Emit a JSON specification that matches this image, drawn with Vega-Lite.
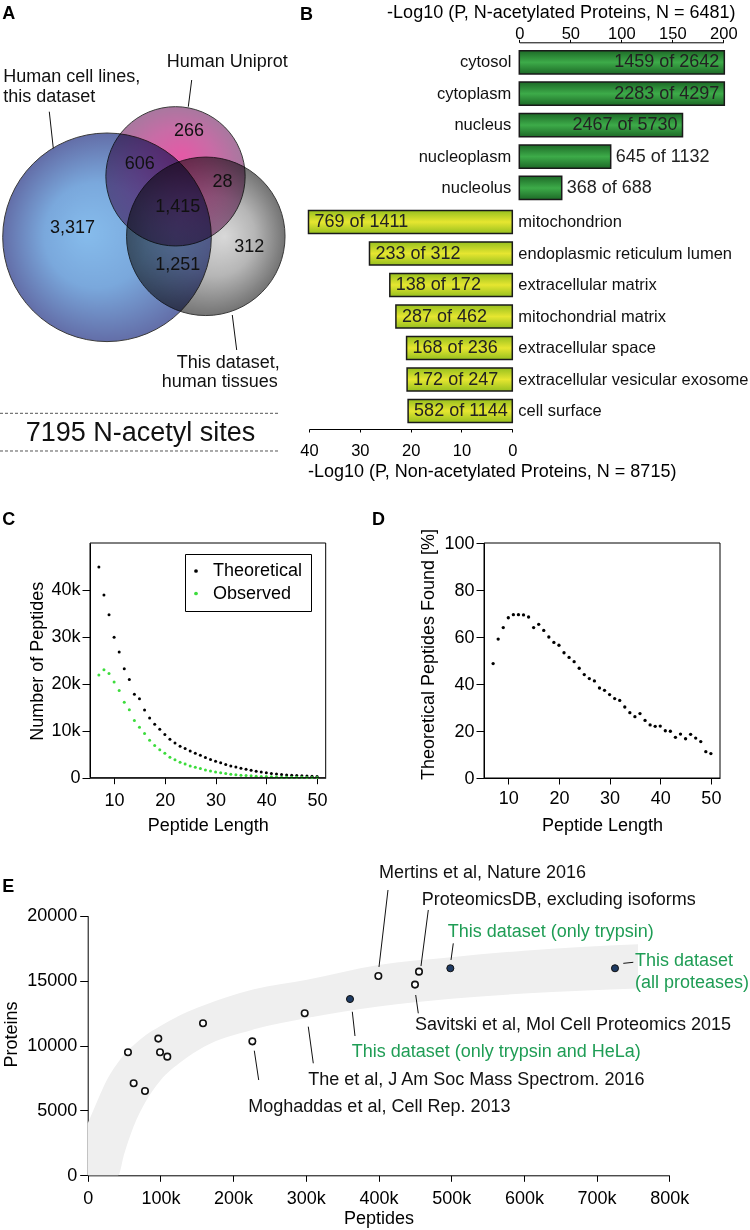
{
"$schema": "https://vega.github.io/schema/vega-lite/v6.json",
"width": 750, "height": 1230,
"autosize": {"type": "none"},
"padding": 0,
"background": "white",
"config": {
  "view": {"stroke": null},
  "font": "Liberation Sans",
  "axis": {"grid": false, "domainColor": "black", "tickColor": "black", "labelColor": "black", "titleColor": "black", "labelFontSize": 18, "titleFontSize": 18, "titleFontWeight": "normal", "labelFont": "Liberation Sans", "titleFont": "Liberation Sans", "labelFlush": false, "labelOverlap": false, "domainWidth": 1, "tickWidth": 1}
},
"datasets": {
  "venn": [{"set":"cells","cx":35.67,"cy":79.1,"d":69.53},{"set":"uniprot","cx":58.5,"cy":58.77,"d":46.43},{"set":"tissues","cx":68.6,"cy":78.77,"d":52.83}],
  "vennNums": [{"t":"266","x":63,"y":43.67},{"t":"606","x":46.57,"y":54.67},{"t":"28","x":74.17,"y":60.57},{"t":"1,415","x":59.23,"y":68.9},{"t":"3,317","x":24.17,"y":76.1},{"t":"312","x":83.07,"y":82.23},{"t":"1,251","x":59.23,"y":88.33}],
  "vennLabels": [{"t":"Human cell lines,","x":1.1,"y":25.57},{"t":"this dataset","x":1.1,"y":32.23},{"t":"Human Uniprot","x":55.57,"y":20.57},{"t":"This dataset,","x":58.9,"y":121.1},{"t":"human tissues","x":53.9,"y":127.23}],
  "vennLeaders": [{"x1":16.43,"y1":37.23,"x2":17.77,"y2":49.43},{"x1":63.9,"y1":26.67,"x2":62.77,"y2":35.57},{"x1":77.43,"y1":105,"x2":78.9,"y2":116.67}],
  "vennDash": [{"x1":0,"x2":93.33,"y":137.77},{"x1":0,"x2":93.33,"y":150.33}],
  "vennTotal": [{"t":"7195 N-acetyl sites","x":46.83,"y":144.33}],
  "nacet": [{"cat":"cytosol","v":201,"lab":"1459 of 2642"},{"cat":"cytoplasm","v":201,"lab":"2283 of 4297"},{"cat":"nucleus","v":160,"lab":"2467 of 5730"},{"cat":"nucleoplasm","v":89.6,"lab":"645 of 1132"},{"cat":"nucleolus","v":41.6,"lab":"368 of 688"}],
  "nonacet": [{"cat":"mitochondrion","v":40.1,"lab":"769 of 1411"},{"cat":"endoplasmic reticulum lumen","v":28.1,"lab":"233 of 312"},{"cat":"extracellular matrix","v":24.1,"lab":"138 of 172"},{"cat":"mitochondrial matrix","v":22.9,"lab":"287 of 462"},{"cat":"extracellular space","v":20.8,"lab":"168 of 236"},{"cat":"extracellular vesicular exosome","v":20.7,"lab":"172 of 247"},{"cat":"cell surface","v":20.5,"lab":"582 of 1144"}],
  "lengths": [
    {"len":7,"s":"Theoretical","n":44900},{"len":8,"s":"Theoretical","n":38900},{"len":9,"s":"Theoretical","n":34700},{"len":10,"s":"Theoretical","n":29900},{"len":11,"s":"Theoretical","n":26800},{"len":12,"s":"Theoretical","n":23200},{"len":13,"s":"Theoretical","n":20900},{"len":14,"s":"Theoretical","n":17800},{"len":15,"s":"Theoretical","n":16800},{"len":16,"s":"Theoretical","n":14400},{"len":17,"s":"Theoretical","n":12700},{"len":18,"s":"Theoretical","n":11400},{"len":19,"s":"Theoretical","n":10300},{"len":20,"s":"Theoretical","n":9200},{"len":21,"s":"Theoretical","n":8200},{"len":22,"s":"Theoretical","n":7400},{"len":23,"s":"Theoretical","n":6700},{"len":24,"s":"Theoretical","n":6200},{"len":25,"s":"Theoretical","n":5700},{"len":26,"s":"Theoretical","n":5200},{"len":27,"s":"Theoretical","n":4800},{"len":28,"s":"Theoretical","n":4300},{"len":29,"s":"Theoretical","n":3900},{"len":30,"s":"Theoretical","n":3500},{"len":31,"s":"Theoretical","n":3200},{"len":32,"s":"Theoretical","n":2800},{"len":33,"s":"Theoretical","n":2500},{"len":34,"s":"Theoretical","n":2300},{"len":35,"s":"Theoretical","n":2000},{"len":36,"s":"Theoretical","n":1800},{"len":37,"s":"Theoretical","n":1600},{"len":38,"s":"Theoretical","n":1400},{"len":39,"s":"Theoretical","n":1200},{"len":40,"s":"Theoretical","n":1060},{"len":41,"s":"Theoretical","n":900},{"len":42,"s":"Theoretical","n":800},{"len":43,"s":"Theoretical","n":700},{"len":44,"s":"Theoretical","n":600},{"len":45,"s":"Theoretical","n":500},{"len":46,"s":"Theoretical","n":450},{"len":47,"s":"Theoretical","n":400},{"len":48,"s":"Theoretical","n":350},{"len":49,"s":"Theoretical","n":300},{"len":50,"s":"Theoretical","n":250},
    {"len":7,"s":"Observed","n":21900},{"len":8,"s":"Observed","n":23000},{"len":9,"s":"Observed","n":22200},{"len":10,"s":"Observed","n":20400},{"len":11,"s":"Observed","n":18600},{"len":12,"s":"Observed","n":16100},{"len":13,"s":"Observed","n":14500},{"len":14,"s":"Observed","n":12200},{"len":15,"s":"Observed","n":10750},{"len":16,"s":"Observed","n":9400},{"len":17,"s":"Observed","n":8000},{"len":18,"s":"Observed","n":6840},{"len":19,"s":"Observed","n":5940},{"len":20,"s":"Observed","n":5200},{"len":21,"s":"Observed","n":4370},{"len":22,"s":"Observed","n":3800},{"len":23,"s":"Observed","n":3300},{"len":24,"s":"Observed","n":2900},{"len":25,"s":"Observed","n":2500},{"len":26,"s":"Observed","n":2200},{"len":27,"s":"Observed","n":1980},{"len":28,"s":"Observed","n":1650},{"len":29,"s":"Observed","n":1450},{"len":30,"s":"Observed","n":1240},{"len":31,"s":"Observed","n":1080},{"len":32,"s":"Observed","n":920},{"len":33,"s":"Observed","n":760},{"len":34,"s":"Observed","n":640},{"len":35,"s":"Observed","n":520},{"len":36,"s":"Observed","n":490},{"len":37,"s":"Observed","n":390},{"len":38,"s":"Observed","n":320},{"len":39,"s":"Observed","n":260},{"len":40,"s":"Observed","n":230},{"len":41,"s":"Observed","n":180},{"len":42,"s":"Observed","n":160},{"len":43,"s":"Observed","n":120},{"len":44,"s":"Observed","n":110},{"len":45,"s":"Observed","n":80},{"len":46,"s":"Observed","n":80},{"len":47,"s":"Observed","n":70},{"len":48,"s":"Observed","n":50},{"len":49,"s":"Observed","n":30},{"len":50,"s":"Observed","n":30}],
  "found": [{"len":7,"p":48.7},{"len":8,"p":59.1},{"len":9,"p":64.0},{"len":10,"p":68.2},{"len":11,"p":69.5},{"len":12,"p":69.5},{"len":13,"p":69.4},{"len":14,"p":68.5},{"len":15,"p":64.0},{"len":16,"p":65.4},{"len":17,"p":62.8},{"len":18,"p":60.0},{"len":19,"p":57.7},{"len":20,"p":56.5},{"len":21,"p":53.3},{"len":22,"p":51.3},{"len":23,"p":49.5},{"len":24,"p":46.7},{"len":25,"p":44.0},{"len":26,"p":42.3},{"len":27,"p":41.3},{"len":28,"p":38.3},{"len":29,"p":37.3},{"len":30,"p":35.5},{"len":31,"p":33.8},{"len":32,"p":33.0},{"len":33,"p":30.2},{"len":34,"p":27.8},{"len":35,"p":26.1},{"len":36,"p":27.4},{"len":37,"p":24.5},{"len":38,"p":22.6},{"len":39,"p":22.0},{"len":40,"p":22.1},{"len":41,"p":20.1},{"len":42,"p":19.9},{"len":43,"p":17.3},{"len":44,"p":18.7},{"len":45,"p":16.7},{"len":46,"p":18.6},{"len":47,"p":17.0},{"len":48,"p":15.5},{"len":49,"p":11.2},{"len":50,"p":10.4}],
  "band": [{"pep":0,"lo":0,"hi":4000},{"pep":10000,"lo":0,"hi":5300},{"pep":20000,"lo":0,"hi":6600},{"pep":30000,"lo":0,"hi":7700},{"pep":42000,"lo":0,"hi":8700},{"pep":50000,"lo":1600,"hi":9300},{"pep":62700,"lo":3700,"hi":10000},{"pep":80000,"lo":5700,"hi":10800},{"pep":100000,"lo":7300,"hi":11500},{"pep":130000,"lo":8800,"hi":12400},{"pep":160000,"lo":9900,"hi":13100},{"pep":226000,"lo":11200,"hi":14300},{"pep":300000,"lo":12100,"hi":15050},{"pep":400000,"lo":13000,"hi":16200},{"pep":500000,"lo":13600,"hi":16800},{"pep":600000,"lo":14000,"hi":17300},{"pep":757000,"lo":14400,"hi":17800}],
  "studies": [{"pep":55400,"prot":9480,"src":"other"},{"pep":63200,"prot":7090,"src":"other"},{"pep":78800,"prot":6490,"src":"other"},{"pep":97100,"prot":10530,"src":"other"},{"pep":99500,"prot":9480,"src":"other"},{"pep":109500,"prot":9140,"src":"other"},{"pep":158600,"prot":11710,"src":"other"},{"pep":226500,"prot":10320,"src":"other"},{"pep":298500,"prot":12480,"src":"other"},{"pep":399800,"prot":15350,"src":"other"},{"pep":450200,"prot":14690,"src":"other"},{"pep":455700,"prot":15690,"src":"other"},{"pep":360800,"prot":13580,"src":"this"},{"pep":498800,"prot":15950,"src":"this"},{"pep":725300,"prot":15950,"src":"this"}],
  "studyLabels": [{"t":"Mertins et al, Nature 2016","x":400700,"y":23270,"src":"other"},{"t":"ProteomicsDB, excluding isoforms","x":459400,"y":21210,"src":"other"},{"t":"This dataset (only trypsin)","x":495200,"y":18770,"src":"this"},{"t":"This dataset","x":752800,"y":16510,"src":"this"},{"t":"(all proteases)","x":752800,"y":14815,"src":"this"},{"t":"Savitski et al, Mol Cell Proteomics 2015","x":450200,"y":11580,"src":"other"},{"t":"This dataset (only trypsin and HeLa)","x":363100,"y":9520,"src":"this"},{"t":"The et al, J Am Soc Mass Spectrom. 2016","x":303400,"y":7340,"src":"other"},{"t":"Moghaddas et al, Cell Rep. 2013","x":220900,"y":5285,"src":"other"}],
  "studyLeaders": [{"x1":413060,"y1":21980,"x2":400680,"y2":16050},{"x1":468500,"y1":20440,"x2":458450,"y2":16120},{"x1":502880,"y1":17870,"x2":499720,"y2":16590},{"x1":736710,"y1":16330,"x2":750470,"y2":16410},{"x1":451160,"y1":13890,"x2":454740,"y2":12480},{"x1":363960,"y1":12600,"x2":367670,"y2":10730},{"x1":303430,"y1":11450,"x2":310310,"y2":8630},{"x1":229160,"y1":9600,"x2":235210,"y2":7340}],
  "letters": [{"t":"A","x":0.3,"y":1.14},{"t":"B","x":40,"y":1.22},{"t":"C","x":0.3,"y":42.28},{"t":"D","x":49.6,"y":42.28},{"t":"E","x":0.3,"y":72.11}]
},
"resolve": {"scale": {"x": "independent", "y": "independent", "size": "independent", "color": "independent"}, "axis": {"x": "independent", "y": "independent"}, "legend": {"color": "independent", "size": "independent"}},
"layer": [
  {
    "encoding": {
      "x": {"field": "cx", "type": "quantitative", "scale": {"domain": [0, 100], "range": [0, 300], "nice": false, "zero": false}, "axis": null},
      "y": {"field": "cy", "type": "quantitative", "scale": {"domain": [0, 160], "range": [0, 480], "nice": false, "zero": false}, "axis": null}
    },
    "layer": [
      {"data": {"name": "venn"}, "transform": [{"filter": "datum.set === 'tissues'"}],
       "mark": {"type": "point", "shape": "circle", "filled": true, "opacity": 1, "stroke": "#3a3a3a", "strokeWidth": 1,
                "fill": {"gradient": "radial", "x1": 0.62, "y1": 0.5, "r1": 0, "x2": 0.5, "y2": 0.5, "r2": 0.5, "stops": [{"offset": 0, "color": "#d8d8d8"}, {"offset": 0.5, "color": "#b6b6b6"}, {"offset": 1, "color": "#747474"}]}},
       "encoding": {"size": {"field": "d", "type": "quantitative", "scale": {"type": "pow", "exponent": 2, "domain": [0, 100], "range": [0, 90000]}, "legend": null}}},
      {"data": {"name": "venn"}, "transform": [{"filter": "datum.set === 'uniprot'"}],
       "mark": {"type": "point", "shape": "circle", "filled": true, "opacity": 1, "blend": "multiply", "stroke": "#3a3a3a", "strokeWidth": 1,
                "fill": {"gradient": "radial", "x1": 0.55, "y1": 0.35, "r1": 0, "x2": 0.5, "y2": 0.5, "r2": 0.5, "stops": [{"offset": 0, "color": "#e45aa6"}, {"offset": 0.55, "color": "#c86ca6"}, {"offset": 1, "color": "#a8789f"}]}},
       "encoding": {"size": {"field": "d", "type": "quantitative", "scale": {"type": "pow", "exponent": 2, "domain": [0, 100], "range": [0, 90000]}, "legend": null}}},
      {"data": {"name": "venn"}, "transform": [{"filter": "datum.set === 'cells'"}],
       "mark": {"type": "point", "shape": "circle", "filled": true, "opacity": 1, "blend": "multiply", "stroke": "#3a3a3a", "strokeWidth": 1,
                "fill": {"gradient": "radial", "x1": 0.4, "y1": 0.48, "r1": 0, "x2": 0.5, "y2": 0.5, "r2": 0.5, "stops": [{"offset": 0, "color": "#86bcec"}, {"offset": 0.5, "color": "#7aa8dc"}, {"offset": 1, "color": "#636ea8"}]}},
       "encoding": {"size": {"field": "d", "type": "quantitative", "scale": {"type": "pow", "exponent": 2, "domain": [0, 100], "range": [0, 90000]}, "legend": null}}},
      {"data": {"name": "vennNums"}, "mark": {"type": "text", "fontSize": 18, "align": "center", "baseline": "middle", "color": "#111"},
       "encoding": {"x": {"field": "x", "type": "quantitative", "axis": null}, "y": {"field": "y", "type": "quantitative", "axis": null}, "text": {"field": "t"}}},
      {"data": {"name": "vennLabels"}, "mark": {"type": "text", "fontSize": 18, "align": "left", "baseline": "middle", "color": "#111"},
       "encoding": {"x": {"field": "x", "type": "quantitative", "axis": null}, "y": {"field": "y", "type": "quantitative", "axis": null}, "text": {"field": "t"}}},
      {"data": {"name": "vennLeaders"}, "mark": {"type": "rule", "color": "#111", "strokeWidth": 1},
       "encoding": {"x": {"field": "x1", "type": "quantitative", "axis": null}, "y": {"field": "y1", "type": "quantitative", "axis": null}, "x2": {"field": "x2"}, "y2": {"field": "y2"}}},
      {"data": {"name": "vennDash"}, "mark": {"type": "rule", "color": "#555", "strokeWidth": 1, "strokeDash": [3, 2]},
       "encoding": {"x": {"field": "x1", "type": "quantitative", "axis": null}, "x2": {"field": "x2"}, "y": {"field": "y", "type": "quantitative", "axis": null}}},
      {"data": {"name": "vennTotal"}, "mark": {"type": "text", "fontSize": 27, "align": "center", "baseline": "middle", "color": "#111"},
       "encoding": {"x": {"field": "x", "type": "quantitative", "axis": null}, "y": {"field": "y", "type": "quantitative", "axis": null}, "text": {"field": "t"}}}
    ]
  },
  {
    "data": {"name": "nacet"},
    "encoding": {
      "y": {"field": "cat", "type": "nominal", "sort": null, "scale": {"range": [46.6, 203.7], "paddingInner": 0.26, "paddingOuter": 0.13}, "axis": null}
    },
    "layer": [
      {"mark": {"type": "bar", "stroke": "#1a1a1a", "strokeWidth": 1.5,
                "fill": {"gradient": "linear", "x1": 0, "y1": 0, "x2": 0, "y2": 1, "stops": [{"offset": 0, "color": "#1d6a27"}, {"offset": 0.5, "color": "#3dab49"}, {"offset": 1, "color": "#1d6a27"}]}},
       "encoding": {
         "x": {"field": "v", "type": "quantitative", "scale": {"domain": [0, 200], "range": [519.3, 723.3], "nice": false, "zero": false},
               "axis": {"orient": "top", "offset": -42.3, "values": [0, 50, 100, 150, 200], "tickSize": 3, "labelPadding": 1, "labelBaseline": "alphabetic", "labelFontSize": 16.5,
                        "title": "-Log10 (P, N-acetylated Proteins, N = 6481)", "titleX": 560.8, "titleY": -25, "titleBaseline": "alphabetic", "titleAlign": "center"}},
         "x2": {"datum": 0}}},
      {"transform": [{"filter": "datum.v > 150"}], "mark": {"type": "text", "fontSize": 18, "align": "right", "baseline": "middle", "dx": -5, "color": "#222"},
       "encoding": {"x": {"field": "v", "type": "quantitative"}, "text": {"field": "lab"}}},
      {"transform": [{"filter": "datum.v <= 150"}], "mark": {"type": "text", "fontSize": 18, "align": "left", "baseline": "middle", "dx": 5, "color": "#222"},
       "encoding": {"x": {"field": "v", "type": "quantitative"}, "text": {"field": "lab"}}},
      {"mark": {"type": "text", "fontSize": 16.5, "align": "right", "baseline": "middle", "dx": -8, "color": "#111"},
       "encoding": {"x": {"datum": 0, "type": "quantitative"}, "text": {"field": "cat"}}}
    ]
  },
  {
    "data": {"name": "nonacet"},
    "encoding": {
      "y": {"field": "cat", "type": "nominal", "sort": null, "scale": {"range": [206.25, 426.75], "paddingInner": 0.27, "paddingOuter": 0.135}, "axis": null}
    },
    "layer": [
      {"mark": {"type": "bar", "stroke": "#1a1a1a", "strokeWidth": 1.5,
                "fill": {"gradient": "linear", "x1": 0, "y1": 0, "x2": 0, "y2": 1, "stops": [{"offset": 0, "color": "#97c01f"}, {"offset": 0.5, "color": "#e6e630"}, {"offset": 1, "color": "#97c01f"}]}},
       "encoding": {
         "x": {"field": "v", "type": "quantitative", "scale": {"domain": [0, 40], "range": [512.3, 309], "nice": false, "zero": false},
               "axis": {"orient": "bottom", "offset": -801, "values": [0, 10, 20, 30, 40], "tickSize": 3, "labelPadding": 23, "labelBaseline": "alphabetic", "labelFontSize": 16.5,
                        "title": "-Log10 (P, Non-acetylated Proteins, N = 8715)", "titleX": 491.7, "titleY": 47.7, "titleBaseline": "alphabetic", "titleAlign": "center"}},
         "x2": {"datum": 0}}},
      {"mark": {"type": "text", "fontSize": 18, "align": "left", "baseline": "middle", "dx": 6, "color": "#222"},
       "encoding": {"x": {"field": "v", "type": "quantitative"}, "text": {"field": "lab"}}},
      {"mark": {"type": "text", "fontSize": 16.5, "align": "left", "baseline": "middle", "dx": 6, "color": "#111"},
       "encoding": {"x": {"datum": 0, "type": "quantitative"}, "text": {"field": "cat"}}}
    ]
  },
  {
    "layer": [
      {"data": {"name": "lengths"}, "mark": {"type": "point", "shape": "circle", "filled": true, "size": 9, "opacity": 1},
       "encoding": {
         "x": {"field": "len", "type": "quantitative", "scale": {"domain": [5.25, 51.7], "range": [90, 325.7], "nice": false, "zero": false},
               "axis": {"orient": "bottom", "offset": -452.3, "values": [10, 20, 30, 40, 50], "tickSize": 6, "labelPadding": 21.3, "labelBaseline": "alphabetic",
                        "title": "Peptide Length", "titleX": 207.8, "titleY": 52.3, "titleBaseline": "alphabetic", "titleAlign": "center"}},
         "y": {"field": "n", "type": "quantitative", "scale": {"domain": [0, 50000], "range": [777.7, 543], "nice": false, "zero": false},
               "axis": {"orient": "left", "offset": -90, "values": [0, 10000, 20000, 30000, 40000], "labelExpr": "datum.value === 0 ? '0' : format(datum.value / 1000, 'd') + 'k'", "tickSize": 8, "labelPadding": 2,
                        "title": "Number of Peptides", "titleX": -48, "titleY": 660.8, "titleBaseline": "alphabetic", "titleAlign": "center", "titleAngle": -90}},
         "color": {"field": "s", "type": "nominal", "scale": {"domain": ["Theoretical", "Observed"], "range": ["#000000", "#3cdc3c"]},
                   "legend": {"orient": "none", "legendX": 185, "legendY": 554, "title": null, "strokeColor": "black", "fillColor": "white", "padding": 8, "labelFontSize": 18, "labelFont": "Liberation Sans", "labelColor": "black", "symbolSize": 14, "symbolType": "circle", "symbolStrokeWidth": 0, "symbolOffset": -6, "rowPadding": 4.5, "labelOffset": 8}}
       }},
      {"data": {"values": [{}]}, "mark": {"type": "rect", "fillOpacity": 0, "stroke": "black", "strokeWidth": 1},
       "encoding": {"x": {"datum": 5.25, "type": "quantitative"}, "x2": {"datum": 51.7}, "y": {"datum": 0, "type": "quantitative"}, "y2": {"datum": 50000}}}
    ]
  },
  {
    "layer": [
      {"data": {"name": "found"}, "mark": {"type": "point", "shape": "circle", "filled": true, "size": 11, "opacity": 1, "color": "black"},
       "encoding": {
         "x": {"field": "len", "type": "quantitative", "scale": {"domain": [5.2, 51.8], "range": [484, 720], "nice": false, "zero": false},
               "axis": {"orient": "bottom", "offset": -452, "values": [10, 20, 30, 40, 50], "tickSize": 6, "labelPadding": 19.3, "labelBaseline": "alphabetic",
                        "title": "Peptide Length", "titleX": 602, "titleY": 52, "titleBaseline": "alphabetic", "titleAlign": "center"}},
         "y": {"field": "p", "type": "quantitative", "scale": {"domain": [0, 100], "range": [778, 543], "nice": false, "zero": false},
               "axis": {"orient": "left", "offset": -484, "values": [0, 20, 40, 60, 80, 100], "tickSize": 8, "labelPadding": 2,
                        "title": "Theoretical Peptides Found [%]", "titleX": -50.5, "titleY": 654, "titleBaseline": "alphabetic", "titleAlign": "center", "titleAngle": -90}}
       }},
      {"data": {"values": [{}]}, "mark": {"type": "rect", "fillOpacity": 0, "stroke": "black", "strokeWidth": 1},
       "encoding": {"x": {"datum": 5.2, "type": "quantitative"}, "x2": {"datum": 51.8}, "y": {"datum": 0, "type": "quantitative"}, "y2": {"datum": 100}}}
    ]
  },
  {
    "layer": [
      {"data": {"name": "band"}, "mark": {"type": "area", "color": "#efefef", "opacity": 1, "interpolate": "monotone"},
       "encoding": {
         "x": {"field": "pep", "type": "quantitative", "scale": {"domain": [0, 800000], "range": [87.7, 669.3], "nice": false, "zero": false},
               "axis": {"orient": "bottom", "offset": -54.7, "values": [0, 100000, 200000, 300000, 400000, 500000, 600000, 700000, 800000], "labelExpr": "datum.value === 0 ? '0' : format(datum.value / 1000, 'd') + 'k'", "tickSize": 6, "labelPadding": 22, "labelBaseline": "alphabetic",
                        "title": "Peptides", "titleX": 378.5, "titleY": 48, "titleBaseline": "alphabetic", "titleAlign": "center"}},
         "y": {"field": "hi", "type": "quantitative", "scale": {"domain": [0, 20000], "range": [1175.3, 915.7], "nice": false, "zero": false},
               "axis": {"orient": "left", "offset": -87.7, "values": [0, 5000, 10000, 15000, 20000], "format": "d", "tickSize": 8, "labelPadding": 3,
                        "title": "Proteins", "titleX": -71.7, "titleY": 1034, "titleBaseline": "alphabetic", "titleAlign": "center", "titleAngle": -90}},
         "y2": {"field": "lo"}
       }},
      {"data": {"name": "studyLeaders"}, "mark": {"type": "rule", "color": "#111", "strokeWidth": 1},
       "encoding": {"x": {"field": "x1", "type": "quantitative"}, "y": {"field": "y1", "type": "quantitative"}, "x2": {"field": "x2"}, "y2": {"field": "y2"}}},
      {"data": {"name": "studies"}, "transform": [{"filter": "datum.src === 'other'"}], "mark": {"type": "point", "shape": "circle", "filled": true, "fill": "white", "stroke": "#111", "strokeWidth": 1.6, "size": 42, "opacity": 1},
       "encoding": {"x": {"field": "pep", "type": "quantitative"}, "y": {"field": "prot", "type": "quantitative"}}},
      {"data": {"name": "studies"}, "transform": [{"filter": "datum.src === 'this'"}], "mark": {"type": "point", "shape": "circle", "filled": true, "fill": "#1f3b63", "stroke": "#111", "strokeWidth": 1, "size": 50, "opacity": 1},
       "encoding": {"x": {"field": "pep", "type": "quantitative"}, "y": {"field": "prot", "type": "quantitative"}}},
      {"data": {"name": "studyLabels"}, "transform": [{"filter": "datum.src === 'other'"}], "mark": {"type": "text", "fontSize": 18, "align": "left", "baseline": "middle", "color": "#111"},
       "encoding": {"x": {"field": "x", "type": "quantitative"}, "y": {"field": "y", "type": "quantitative"}, "text": {"field": "t"}}},
      {"data": {"name": "studyLabels"}, "transform": [{"filter": "datum.src === 'this'"}], "mark": {"type": "text", "fontSize": 18, "align": "left", "baseline": "middle", "color": "#1f9d55"},
       "encoding": {"x": {"field": "x", "type": "quantitative"}, "y": {"field": "y", "type": "quantitative"}, "text": {"field": "t"}}}
    ]
  },
  {
    "data": {"name": "letters"},
    "mark": {"type": "text", "fontSize": 18, "fontWeight": "bold", "align": "left", "baseline": "middle", "color": "#000"},
    "encoding": {
      "x": {"field": "x", "type": "quantitative", "scale": {"domain": [0, 100], "range": [0, 750], "nice": false, "zero": false}, "axis": null},
      "y": {"field": "y", "type": "quantitative", "scale": {"domain": [0, 100], "range": [0, 1230], "nice": false, "zero": false}, "axis": null},
      "text": {"field": "t"}
    }
  }
]
}
